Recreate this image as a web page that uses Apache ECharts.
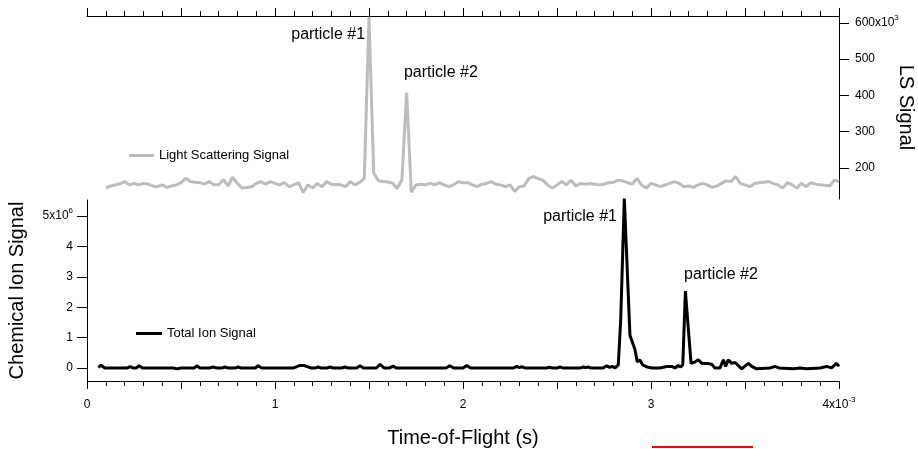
<!DOCTYPE html>
<html>
<head>
<meta charset="utf-8">
<script src="https://cdn.jsdelivr.net/npm/echarts@6/dist/echarts.min.js"></script>
<style>
html,body{margin:0;padding:0;background:#fff;}
#chart{width:918px;height:449px;}
</style>
</head>
<body>
<div id="chart"></div>
<script>
// ---- Data ----
// Light scattering signal (units of 10^3), uniformly sampled
const lsStartMs = 0.1;
const lsStepMs = 0.025;
const lsSignalK = [
  144,150,153,156,162,153,157,153,157,155,
  150,148,153,146,150,153,159,171,162,160,
  159,155,162,153,153,168,150,174,157,144,
  146,148,157,162,155,162,157,153,159,148,
  153,159,132,153,144,157,148,162,155,154,
  153,148,162,153,160,
  171,617,186,164,162,161,158,143,167,408,133,
  153,155,153,157,153,159,153,148,153,162,159,
  159,153,148,155,157,162,155,153,148,153,135,148,150,171,176,
  170,
  166,153,144,153,162,153,166,150,157,155,157,155,153,155,159,
  160,
  166,164,159,155,171,153,144,157,153,148,153,157,162,157,148,
  150,
  146,153,157,153,146,150,157,164,162,176,157,153,148,157,159,
  160,
  162,157,153,144,159,153,144,157,148,159,155,153,
  152,
  150,166,162
];

// Total ion signal (units of 10^6), time in ms
const tisTimeMs = [
  0.06,0.075,0.095,
  0.215,0.229,0.245,0.262,0.277,0.295,
  0.46,0.479,0.50,
  0.57,0.585,0.60,
  0.655,0.67,0.69,0.72,0.734,0.75,0.79,0.803,0.82,
  0.895,0.91,0.93,
  1.10,1.13,1.155,1.19,
  1.215,1.229,1.245,1.28,1.293,1.31,1.355,1.372,1.39,
  1.435,1.452,1.47,
  1.54,1.559,1.58,1.61,1.628,1.645,
  1.91,1.93,1.95,2.00,2.02,2.04,
  2.27,2.286,2.30,2.312,2.33,
  2.445,2.46,2.475,2.50,2.516,2.53,
  2.625,2.64,2.652,2.665,2.68,
  2.745,2.764,2.78,2.795,2.809,2.826,2.839,2.858,2.888,2.915,2.927,2.941,2.956,2.98,3.004,
  3.048,3.083,3.11,3.128,3.145,3.158,3.169,3.183,3.199,3.213,3.235,3.252,3.27,3.296,3.323,3.34,
  3.367,3.385,3.397,3.411,3.429,3.447,3.464,3.482,3.518,3.536,3.562,3.633,3.66,3.68,
  3.757,3.793,3.828,3.899,3.934,3.96,3.987,4.0
];
const tisSignalM = [
  0.02,0.09,0.0,
  0,0.04,0,0,0.07,0,
  0,-0.03,0,
  0,0.07,0,
  0,0.03,0,0,0.03,0,0,0.03,0,
  0,0.07,0,
  0,0.08,0.08,0,
  0,0.03,0,0,0.03,0,0,0.03,0,
  0,0.07,0,
  0,0.12,0,0,0.06,0,
  0,0.07,0,0,0.08,0,
  0,0.05,0.01,0.04,0,
  0,0.02,0,0,0.03,0,
  0,0.03,0.01,0.03,0,
  0,0.07,0.02,0.05,0,0.1,1.6,5.58,1.08,0.6,0.2,0.26,0.1,0.03,0,
  0,0.05,0.05,0,0.08,0.03,0.1,2.53,1.25,0.15,0.2,0.27,0.15,0.15,0.12,0,
  0,0.27,0.05,0.27,0.15,0.18,0.08,-0.03,0.15,0.05,-0.03,0,0.05,0,
  -0.03,0,-0.03,0,0.05,0,0.15,0.05
];

const lsTicks = [200,300,400,500,600];
const tisTicks = [0,1,2,3,4,5];
const timeLabels = [0,1,2,3,4];

// ---- Build ----
const lsData = lsSignalK.map((v,i) => [lsStartMs + i*lsStepMs, v]);
const tisData = tisTimeMs.map((t,i) => [t, tisSignalM[i]]);

const FONT = 'Arial, "Liberation Sans", sans-serif';
const GRAY = '#bdbdbd';
const supRich = {
  base: {fontSize: 12, fontFamily: FONT, color: '#000', lineHeight: 18},
  sup: {fontSize: 8, fontFamily: FONT, color: '#000', verticalAlign: 'top', lineHeight: 10}
};
const axisLineBlack = {show: true, onZero: false, lineStyle: {color: '#000', width: 1}};
const tickBlack = {color: '#000', width: 1};

const chart = echarts.init(document.getElementById('chart'), null, {renderer: 'canvas'});
chart.setOption({
  animation: false,
  backgroundColor: '#fff',
  textStyle: {fontFamily: FONT},
  grid: [
    {left: 87, right: 79, top: 16, height: 183, outerBoundsMode: 'none', containLabel: false},
    {left: 87, right: 79, top: 200, bottom: 68, outerBoundsMode: 'none', containLabel: false}
  ],
  xAxis: [
    {
      gridIndex: 0, type: 'value', position: 'top', min: 0, max: 4, interval: 0.5,
      axisLine: axisLineBlack,
      axisTick: {show: true, length: 8, lineStyle: tickBlack},
      minorTick: {show: true, splitNumber: 5, length: 5, lineStyle: tickBlack},
      axisLabel: {show: false}, splitLine: {show: false}, minorSplitLine: {show: false}
    },
    {
      gridIndex: 1, type: 'value', position: 'bottom', min: 0, max: 4, interval: 0.5,
      axisLine: axisLineBlack,
      axisTick: {show: true, length: 8, lineStyle: tickBlack},
      minorTick: {show: true, splitNumber: 5, length: 5, lineStyle: tickBlack},
      axisLabel: {
        show: true, margin: 15, color: '#000', fontSize: 12, fontFamily: FONT,
        formatter: v => {
          const r = Math.round(v*10)/10;
          if (!timeLabels.includes(r)) return '';
          return r === 4 ? '{base|4x10}{sup|-3}' : '{base|' + r + '}';
        },
        rich: supRich
      },
      splitLine: {show: false}, minorSplitLine: {show: false},
      name: 'Time-of-Flight (s)', nameLocation: 'middle', nameGap: 47, nameMoveOverlap: false,
      nameTextStyle: {fontSize: 20, color: '#000', fontFamily: FONT}
    }
  ],
  yAxis: [
    {
      gridIndex: 0, type: 'value', position: 'right', min: 114, max: 619,
      axisLine: axisLineBlack,
      axisTick: {show: true, length: 10, lineStyle: tickBlack, customValues: lsTicks},
      axisLabel: {
        show: true, margin: 16, color: '#000', fontSize: 12, fontFamily: FONT,
        customValues: lsTicks,
        formatter: v => v === 600 ? '{base|600x10}{sup|3}' : '{base|' + v + '}',
        rich: supRich
      },
      splitLine: {show: false},
      name: 'LS Signal', nameLocation: 'middle', nameGap: 57, nameRotate: -90, nameMoveOverlap: false,
      nameTextStyle: {fontSize: 20, color: '#000', fontFamily: FONT}
    },
    {
      gridIndex: 1, type: 'value', position: 'left', min: -0.43, max: 5.53,
      axisLine: axisLineBlack,
      axisTick: {show: true, length: 10, lineStyle: tickBlack, customValues: tisTicks},
      axisLabel: {
        show: true, margin: 14, color: '#000', fontSize: 12, fontFamily: FONT,
        customValues: tisTicks,
        formatter: v => v === 5 ? '{base|5x10}{sup|6}' : '{base|' + v + '}',
        rich: supRich
      },
      splitLine: {show: false},
      name: 'Chemical Ion Signal', nameLocation: 'middle', nameGap: 60, nameMoveOverlap: false,
      nameTextStyle: {fontSize: 20, color: '#000', fontFamily: FONT}
    }
  ],
  legend: [
    {
      data: ['Light Scattering Signal'], left: 129, top: 149, padding: 0, icon: 'rect',
      itemWidth: 25, itemHeight: 3, selectedMode: false,
      textStyle: {fontSize: 13, color: '#000', fontFamily: FONT}
    },
    {
      data: ['Total Ion Signal'], left: 136, top: 327, padding: 0, icon: 'rect',
      itemWidth: 26, itemHeight: 3, selectedMode: false,
      textStyle: {fontSize: 13, color: '#000', fontFamily: FONT}
    }
  ],
  series: [
    {
      type: 'line', name: 'Light Scattering Signal', xAxisIndex: 0, yAxisIndex: 0,
      data: lsData, symbol: 'none', showSymbol: false, clip: false,
      lineStyle: {color: GRAY, width: 3}, itemStyle: {color: GRAY},
      markPoint: {
        symbol: 'circle', symbolSize: 0, silent: true,
        label: {show: true, position: 'inside', formatter: '{b}', color: '#000', fontSize: 16, fontFamily: FONT},
        data: [
          {name: 'particle #1', coord: [1.479, 569], label: {align: 'right'}},
          {name: 'particle #2', coord: [1.686, 462], label: {align: 'left'}}
        ]
      }
    },
    {
      type: 'line', name: 'Total Ion Signal', xAxisIndex: 1, yAxisIndex: 1,
      data: tisData, symbol: 'none', showSymbol: false, clip: false,
      lineStyle: {color: '#000', width: 3}, itemStyle: {color: '#000'},
      markPoint: {
        symbol: 'circle', symbolSize: 0, silent: true,
        label: {show: true, position: 'inside', formatter: '{b}', color: '#000', fontSize: 16, fontFamily: FONT},
        data: [
          {name: 'particle #1', coord: [2.819, 4.99], label: {align: 'right'}},
          {name: 'particle #2', coord: [3.176, 3.08], label: {align: 'left'}}
        ]
      }
    }
  ],
  graphic: [
    {type: 'rect', shape: {x: 652, y: 446, width: 101, height: 2}, style: {fill: '#ff0000'}, silent: true}
  ]
});
</script>
</body>
</html>
